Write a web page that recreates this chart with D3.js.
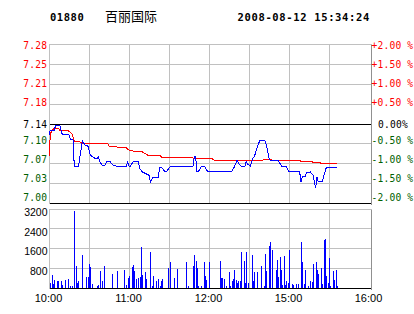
<!DOCTYPE html>
<html>
<head>
<meta charset="utf-8">
<script src="https://cdn.jsdelivr.net/npm/d3@7"></script>
<style>
body{margin:0;background:#fff}
svg{display:block}
</style>
</head>
<body>
<svg></svg>
<script>
const svgWidth = 414
const svgHeight = 314

const stockCode = "01880"
const stockName = "百丽国际"
const stampText = "2008-08-12 15:34:24"
const prevClose = 7.14
const pctSteps = [2, 1.5, 1, 0.5, 0, -0.5, -1, -1.5, -2]
const priceLabels = ["7.28","7.25","7.21","7.18","7.14","7.10","7.07","7.03","7.00"]
const pctLabels = ["+2.00 %","+1.50 %","+1.00 %","+0.50 %","0.00%","-0.50 %","-1.00 %","-1.50 %","-2.00 %"]
const timeLabels = ["10:00","11:00","12:00","15:00","16:00"]
const timeLabelMinutes = [0,60,120,180,240]
const volTicks = [800,1600,2400,3200]

// minutes of trading after 10:00 (lunch removed: 12:30 and 14:30 are both 150)
const priceMinute = [0,1,4,5,8,9,10,15,16,18,19,22,24,25,27,29,31,34,36,37,38,40,42,43,46,48,51,58,59,60,61,63,67,68,70,75,76,78,82,83,85,87,88,91,108,109,110,111,112,114,117,118,120,137,139,141,142,144,147,148,149,151,153,154,156,158,162,163,165,166,172,174,175,178,180,188,189,190,192,193,196,198,199,200,201,202,205,206,208,216]
const price = [7.120,7.129,7.129,7.138,7.138,7.129,7.121,7.121,7.112,7.112,7.063,7.063,7.093,7.110,7.102,7.102,7.084,7.079,7.077,7.081,7.072,7.066,7.066,7.072,7.072,7.066,7.064,7.064,7.072,7.064,7.064,7.072,7.072,7.060,7.054,7.048,7.036,7.044,7.044,7.062,7.061,7.054,7.054,7.064,7.064,7.081,7.081,7.054,7.054,7.063,7.063,7.057,7.054,7.054,7.063,7.075,7.070,7.064,7.064,7.073,7.068,7.064,7.079,7.081,7.097,7.110,7.110,7.102,7.079,7.074,7.074,7.066,7.063,7.063,7.054,7.054,7.036,7.045,7.045,7.052,7.054,7.048,7.036,7.026,7.045,7.036,7.036,7.046,7.062,7.062]

const avgMinute = [0,1,2,4,7,8,13,15,17,18,19,23,26,30,44,45,58,60,66,70,74,83,85,108,110,122,124,160,163,166,167,188,189,197,198,203,204,216]
const avgPrice = [7.081,7.120,7.129,7.132,7.132,7.129,7.129,7.127,7.123,7.117,7.109,7.108,7.105,7.105,7.105,7.100,7.097,7.093,7.090,7.090,7.084,7.084,7.079,7.079,7.078,7.078,7.075,7.075,7.077,7.077,7.075,7.075,7.073,7.073,7.071,7.071,7.069,7.069]

const volMinute = [1,2,3,4,6,7,9,10,12,14,16,17,19,20,21,22,25,28,29,30,31,32,36,37,38,40,41,47,51,56,58,59,60,62,63,64,65,67,68,69,70,72,73,76,77,78,80,82,83,84,85,89,91,94,96,103,104,108,109,110,111,112,114,116,117,118,120,
  128,129,130,131,133,135,136,137,138,139,140,141,142,143,144,146,147,148,149,152,153,154,156,159,161,162,163,165,166,167,170,171,172,173,174,175,176,177,178,179,180,182,183,185,187,189,190,191,192,194,196,197,198,200,201,202,204,205,206,207,208,209,210,211,213,214,215,216]
const volume = [200,540,175,340,270,270,300,135,310,365,95,95,3100,880,200,300,1350,445,445,985,850,175,95,135,675,300,880,580,675,740,135,400,500,840,945,675,365,400,445,1660,540,635,380,1445,95,500,270,365,95,270,365,810,1040,400,770,1040,95,880,1350,1110,810,95,95,1040,500,340,1040,
  1110,400,400,380,95,635,95,270,365,715,310,200,270,270,1445,1110,200,1445,200,1350,270,635,635,905,95,1390,675,1715,1850,1550,715,1120,445,1255,715,135,1310,135,300,200,1550,175,135,175,175,1850,1040,175,740,95,270,230,985,1040,715,580,810,175,1960,2000,470,200,1215,95,675,310,740,95]

const left = 49
const right = 371
const upColor = "#ff0000"
const downColor = "#006000"
const gridColor = "#c0c0c0"

const svg = d3.select("svg")
.attr("width", svgWidth)
.attr("height", svgHeight)

const xScale = d3.scaleLinear().domain([0,240]).range([49,369])
const yScale = d3.scaleLinear()
.domain([prevClose*0.98, prevClose*1.02])
.range([203.5, 44.5])
const yVol = d3.scaleLinear().domain([0,3200]).range([288, 209])
const labelY = d3.scaleLinear().domain([0,8]).range([45.5, 197.5])
const px = (v)=>Math.floor(v)+0.5

// header
svg.append("text").attr("x",50).attr("y",21)
.attr("font-family","DejaVu Sans Mono").attr("font-weight","bold")
.attr("font-size","10.5px").attr("letter-spacing","0.55px").text(stockCode)
svg.append("text").attr("x",105).attr("y",21)
.attr("font-family","Noto Sans CJK SC").attr("font-size","13px").text(stockName)
svg.append("text").attr("x",237.5).attr("y",21)
.attr("font-family","DejaVu Sans Mono").attr("font-weight","bold")
.attr("font-size","10.5px").attr("letter-spacing","0.65px").text(stampText)

// price panel grid
const levels = pctSteps.map((p)=>prevClose*(1+p/100))
const grid = svg.append("g").attr("shape-rendering","crispEdges")
grid.selectAll(".vg").data([30,60,90,120,150,180,210]).enter().append("line")
.attr("x1",(d)=>px(xScale(d))).attr("x2",(d)=>px(xScale(d)))
.attr("y1",px(yScale.range()[1])).attr("y2",px(yScale.range()[0]))
.attr("stroke",gridColor)
grid.selectAll(".vv").data([30,60,90,120,150,180,210]).enter().append("line")
.attr("x1",(d)=>px(xScale(d))).attr("x2",(d)=>px(xScale(d)))
.attr("y1",px(yVol(3200))).attr("y2",px(yVol(0)))
.attr("stroke",gridColor)
grid.selectAll(".hg").data(levels).enter().append("line")
.attr("x1",left).attr("x2",right+1)
.attr("y1",(d)=>px(yScale(d))).attr("y2",(d)=>px(yScale(d)))
.attr("stroke",(d,i)=>(i==4||i==8)?"#000":gridColor)
grid.selectAll(".hv").data(volTicks.concat([0])).enter().append("line")
.attr("x1",left).attr("x2",right+1)
.attr("y1",(d)=>px(yVol(d))).attr("y2",(d)=>px(yVol(d)))
.attr("stroke",(d)=>d==0?"#000":gridColor)
// panel sides
;[[yScale.range()[1],yScale.range()[0]],[yVol(3200),yVol(0)]].forEach((r)=>{
  grid.append("line").attr("x1",px(left)).attr("x2",px(left))
  .attr("y1",px(r[0])).attr("y2",px(r[1])).attr("stroke",gridColor)
  grid.append("line").attr("x1",px(right)).attr("x2",px(right))
  .attr("y1",px(r[0])).attr("y2",px(r[1])+1).attr("stroke","#909090")
})

// left price labels
svg.selectAll(".pl").data(priceLabels).enter().append("text")
.attr("x",23.3)
.attr("y",(d,i)=>i==4?yScale(prevClose)+1:labelY(i))
.attr("dy","0.36em")
.attr("font-family","DejaVu Sans Mono").attr("font-size","9.6px").attr("letter-spacing","0.2px")
.attr("fill",(d,i)=>i<4?upColor:(i==4?"#000":downColor))
.text((d)=>d)

// right percent labels
svg.selectAll(".rl").data(pctLabels).enter().append("text")
.attr("x",(d,i)=>i==4?378:371.5)
.attr("y",(d,i)=>i==4?yScale(prevClose)+1:labelY(i))
.attr("dy","0.36em")
.attr("font-family","DejaVu Sans Mono").attr("font-size","9.6px").attr("letter-spacing","0.2px")
.attr("fill",(d,i)=>i<4?upColor:(i==4?"#000":downColor))
.text((d)=>d)

// volume labels
svg.selectAll(".vl").data(volTicks).enter().append("text")
.attr("x",47.5).attr("y",(d)=>yVol(d)+3)
.attr("dy","0.36em").attr("text-anchor","end")
.attr("font-family","Liberation Sans").attr("font-size","10.5px")
.text((d)=>d)

// time labels
svg.selectAll(".tl").data(timeLabels).enter().append("text")
.attr("x",(d,i)=>xScale(timeLabelMinutes[i])-0.5).attr("y",302)
.attr("text-anchor","middle")
.attr("font-family","Liberation Sans").attr("font-size","11px")
.text((d)=>d)

// volume bars
svg.append("g").attr("shape-rendering","crispEdges")
.selectAll("rect").data(volume).enter().append("rect")
.attr("x",(d,i)=>Math.round(xScale(volMinute[i])))
.attr("y",(d)=>yVol(d))
.attr("width",1)
.attr("height",(d)=>yVol(0)-yVol(d))
.attr("fill","#0000ff")

// average and price lines
const avgLine = d3.line().x((d)=>xScale(d[0])).y((d)=>yScale(d[1]))
svg.append("path")
.datum(avgMinute.map((m,i)=>[m,avgPrice[i]]))
.attr("d",avgLine).attr("fill","none").attr("stroke",upColor)
.attr("stroke-width",1).attr("shape-rendering","crispEdges")
svg.append("path")
.datum(priceMinute.map((m,i)=>[m,price[i]]))
.attr("d",avgLine).attr("fill","none").attr("stroke","#0000ff")
.attr("stroke-width",1).attr("shape-rendering","crispEdges")
</script>
</body>
</html>
